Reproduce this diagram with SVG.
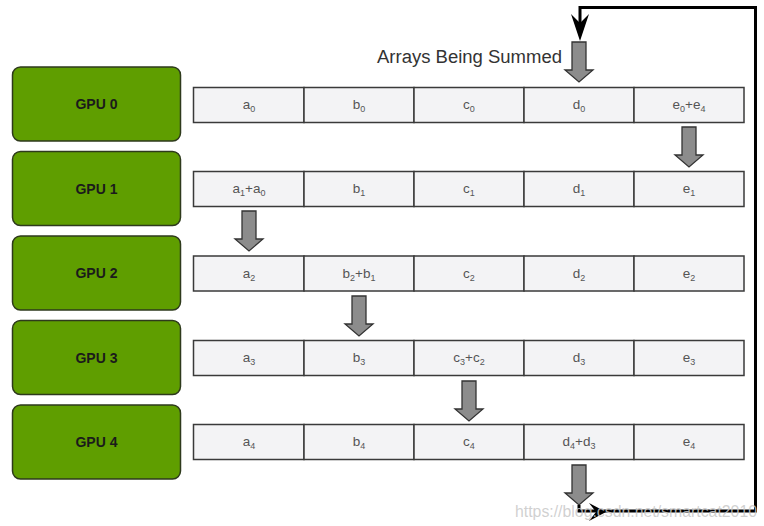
<svg xmlns="http://www.w3.org/2000/svg" width="764" height="526" viewBox="0 0 764 526">
<defs>
<style>
.gpu{fill:#5f9e00;stroke:#2e3a1c;stroke-width:1.5}
.gpul{font-family:"Liberation Sans",Arial,sans-serif;font-weight:bold;font-size:14px;fill:#1b1b1b;text-anchor:middle}
.cell{fill:#f3f3f5;stroke:#3a3a3a;stroke-width:1.5}
.ct{font-family:"Liberation Sans",Arial,sans-serif;font-size:13.5px;fill:#555;text-anchor:middle}
.sub{font-size:9px}
.garrow{fill:#8c8c8c;stroke:#333;stroke-width:1.3;stroke-linejoin:miter}
.loop{fill:none;stroke:#000;stroke-width:3}
</style>
<path id="ga" d="M-7,0 H7 V28 H14 L0,40 L-14,28 H-7 Z"/>
</defs>
<rect width="764" height="526" fill="#fff"/>

<g id="gpu0"><rect class="gpu" x="12.5" y="67" width="168" height="74" rx="8"/><text class="gpul" x="96.5" y="109">GPU 0</text></g>
<g id="gpu1"><rect class="gpu" x="12.5" y="151.5" width="168" height="74" rx="8"/><text class="gpul" x="96.5" y="193.5">GPU 1</text></g>
<g id="gpu2"><rect class="gpu" x="12.5" y="236" width="168" height="74" rx="8"/><text class="gpul" x="96.5" y="278">GPU 2</text></g>
<g id="gpu3"><rect class="gpu" x="12.5" y="320.5" width="168" height="74" rx="8"/><text class="gpul" x="96.5" y="362.5">GPU 3</text></g>
<g id="gpu4"><rect class="gpu" x="12.5" y="405" width="168" height="74" rx="8"/><text class="gpul" x="96.5" y="447">GPU 4</text></g>

<g id="row0">
<rect class="cell" x="193.5" y="87.5" width="110.5" height="35"/><rect class="cell" x="304" y="87.5" width="110" height="35"/><rect class="cell" x="414" y="87.5" width="110" height="35"/><rect class="cell" x="524" y="87.5" width="110" height="35"/><rect class="cell" x="634" y="87.5" width="110" height="35"/>
<text class="ct" x="249" y="109">a<tspan class="sub" dy="3">0</tspan></text>
<text class="ct" x="359" y="109">b<tspan class="sub" dy="3">0</tspan></text>
<text class="ct" x="469" y="109">c<tspan class="sub" dy="3">0</tspan></text>
<text class="ct" x="579" y="109">d<tspan class="sub" dy="3">0</tspan></text>
<text class="ct" x="689" y="109">e<tspan class="sub" dy="3">0</tspan><tspan dy="-3">+e</tspan><tspan class="sub" dy="3">4</tspan></text>
</g>
<g id="row1">
<rect class="cell" x="193.5" y="171.5" width="110.5" height="35"/><rect class="cell" x="304" y="171.5" width="110" height="35"/><rect class="cell" x="414" y="171.5" width="110" height="35"/><rect class="cell" x="524" y="171.5" width="110" height="35"/><rect class="cell" x="634" y="171.5" width="110" height="35"/>
<text class="ct" x="249" y="193">a<tspan class="sub" dy="3">1</tspan><tspan dy="-3">+a</tspan><tspan class="sub" dy="3">0</tspan></text>
<text class="ct" x="359" y="193">b<tspan class="sub" dy="3">1</tspan></text>
<text class="ct" x="469" y="193">c<tspan class="sub" dy="3">1</tspan></text>
<text class="ct" x="579" y="193">d<tspan class="sub" dy="3">1</tspan></text>
<text class="ct" x="689" y="193">e<tspan class="sub" dy="3">1</tspan></text>
</g>
<g id="row2">
<rect class="cell" x="193.5" y="256" width="110.5" height="35"/><rect class="cell" x="304" y="256" width="110" height="35"/><rect class="cell" x="414" y="256" width="110" height="35"/><rect class="cell" x="524" y="256" width="110" height="35"/><rect class="cell" x="634" y="256" width="110" height="35"/>
<text class="ct" x="249" y="277.5">a<tspan class="sub" dy="3">2</tspan></text>
<text class="ct" x="359" y="277.5">b<tspan class="sub" dy="3">2</tspan><tspan dy="-3">+b</tspan><tspan class="sub" dy="3">1</tspan></text>
<text class="ct" x="469" y="277.5">c<tspan class="sub" dy="3">2</tspan></text>
<text class="ct" x="579" y="277.5">d<tspan class="sub" dy="3">2</tspan></text>
<text class="ct" x="689" y="277.5">e<tspan class="sub" dy="3">2</tspan></text>
</g>
<g id="row3">
<rect class="cell" x="193.5" y="340.5" width="110.5" height="35"/><rect class="cell" x="304" y="340.5" width="110" height="35"/><rect class="cell" x="414" y="340.5" width="110" height="35"/><rect class="cell" x="524" y="340.5" width="110" height="35"/><rect class="cell" x="634" y="340.5" width="110" height="35"/>
<text class="ct" x="249" y="362">a<tspan class="sub" dy="3">3</tspan></text>
<text class="ct" x="359" y="362">b<tspan class="sub" dy="3">3</tspan></text>
<text class="ct" x="469" y="362">c<tspan class="sub" dy="3">3</tspan><tspan dy="-3">+c</tspan><tspan class="sub" dy="3">2</tspan></text>
<text class="ct" x="579" y="362">d<tspan class="sub" dy="3">3</tspan></text>
<text class="ct" x="689" y="362">e<tspan class="sub" dy="3">3</tspan></text>
</g>
<g id="row4">
<rect class="cell" x="193.5" y="424.5" width="110.5" height="35"/><rect class="cell" x="304" y="424.5" width="110" height="35"/><rect class="cell" x="414" y="424.5" width="110" height="35"/><rect class="cell" x="524" y="424.5" width="110" height="35"/><rect class="cell" x="634" y="424.5" width="110" height="35"/>
<text class="ct" x="249" y="446">a<tspan class="sub" dy="3">4</tspan></text>
<text class="ct" x="359" y="446">b<tspan class="sub" dy="3">4</tspan></text>
<text class="ct" x="469" y="446">c<tspan class="sub" dy="3">4</tspan></text>
<text class="ct" x="579" y="446">d<tspan class="sub" dy="3">4</tspan><tspan dy="-3">+d</tspan><tspan class="sub" dy="3">3</tspan></text>
<text class="ct" x="689" y="446">e<tspan class="sub" dy="3">4</tspan></text>
</g>

<text x="377" y="63" font-family="'Liberation Sans',Arial,sans-serif" font-size="18" fill="#333" textLength="185" lengthAdjust="spacingAndGlyphs">Arrays Being Summed</text>

<g id="connectors">
<use href="#ga" class="garrow" x="579" y="42"/>
<use href="#ga" class="garrow" x="689" y="127"/>
<use href="#ga" class="garrow" x="249" y="211"/>
<use href="#ga" class="garrow" x="359" y="296"/>
<use href="#ga" class="garrow" x="469" y="381"/>
<use href="#ga" class="garrow" x="579" y="465"/>
<path class="loop" d="M579,505 V511 H755.5 V7.5 H580 V30"/>
<polygon points="580,41 571,14 580,23 589,14" fill="#000"/>
<polygon points="606,512 589,503 596,512 589,521" fill="#000"/>
</g>

<text x="515" y="517" font-family="'Liberation Sans',Arial,sans-serif" font-size="16" fill="#c8c8c8" fill-opacity="0.85" textLength="242" lengthAdjust="spacingAndGlyphs">https://blog.csdn.net/smartcat2010</text>
</svg>
